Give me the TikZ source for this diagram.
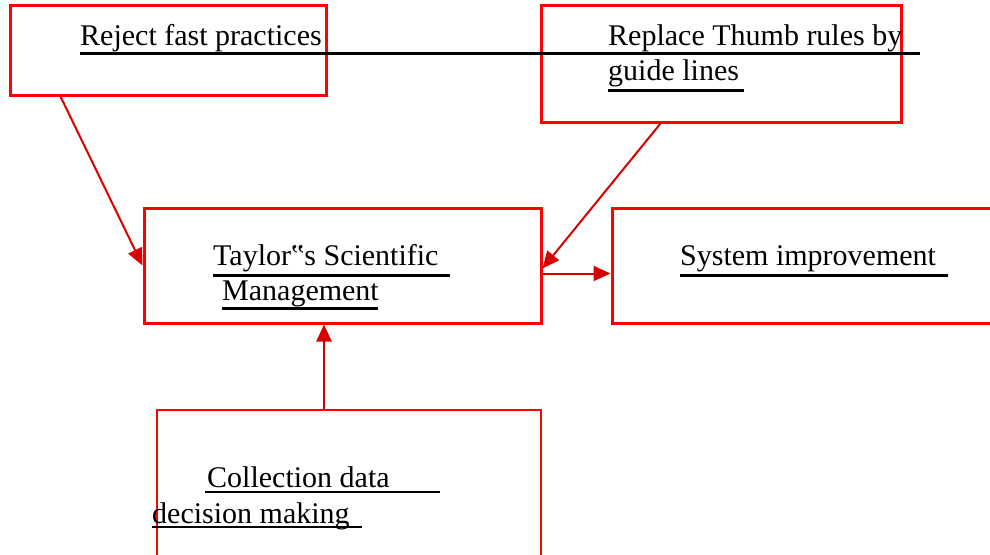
\documentclass[tikz,border=0pt]{standalone}
\usepackage{fontspec}
\setmainfont{Liberation Serif}
\usetikzlibrary{arrows.meta, positioning}
\tikzset{
  % Box styles
  redbox/.style={rectangle, draw=red, line width=3pt, inner sep=0pt},
  thinbox/.style={rectangle, draw=red, line width=1.2pt, inner sep=0pt},
  % Text styles
  txtlabel/.style={anchor=base west, inner sep=0pt, font=\fontsize{30}{35}\selectfont},
  uline/.style={line width=3pt, black},
  % Arrow styles
  redarrow/.style={-{Triangle[length=17pt,width=15pt]}, line width=2pt, red!85!black}
}
\begin{document}
\begin{tikzpicture}[x=1pt, y=-1pt]
  \useasboundingbox (0,0) rectangle (990,554);
  \clip (0,0) rectangle (990,554);

  \node[redbox, minimum width=316pt, minimum height=90pt] (reject) at (168,50) {};
  \node[redbox, minimum width=360pt, minimum height=117pt] (replace) at (721,63.5) {};
  \node[redbox, minimum width=397pt, minimum height=115pt] (taylor) at (342.5,265.5) {};
  \node[redbox, minimum width=383pt, minimum height=115pt] (system) at (803.5,265.5) {};
  \node[thinbox, minimum width=384pt, minimum height=190pt] (collect) at (349,505) {};

  \node[txtlabel] (rejtxt) at (80,45) {Reject fast practices};
  \node[txtlabel] (reptxt) at (608,45) {Replace Thumb rules by};
  \node[txtlabel] (guitxt) at (608,80) {guide lines};
  \node[txtlabel] (taytxt) at (213,265) {Taylor‟s Scientific};
  \node[txtlabel] (mantxt) at (222,300) {Management};
  \node[txtlabel] (systxt) at (680,265) {System improvement};
  \node[txtlabel] (coltxt) at (207,487) {Collection data};
  \node[txtlabel] (dectxt) at (152,523) {decision making};

  \draw[uline] (80,53) -- (920,53);
  \draw[uline] (608,90) -- (744,90);
  \draw[uline] (213,275) -- (450,275);
  \draw[uline] (222,308) -- (378,308);
  \draw[uline] (680,275) -- (948,275);
  \draw[uline, line width=2pt] (205,492) -- (440,492);
  \draw[uline, line width=2pt] (152,527) -- (362,527);

  \draw[redarrow] ([xshift=52pt]reject.south west) -- (taylor.west);
  \draw[redarrow] ([xshift=121pt]replace.south west) -- ([yshift=-3pt]taylor.east);
  \draw[redarrow] ([yshift=-8pt]taylor.east) -- ([yshift=-8pt]system.west);
  \draw[redarrow] ([xshift=-25pt]collect.north) -- ([xshift=-18.5pt]taylor.south);
\end{tikzpicture}
\end{document}
